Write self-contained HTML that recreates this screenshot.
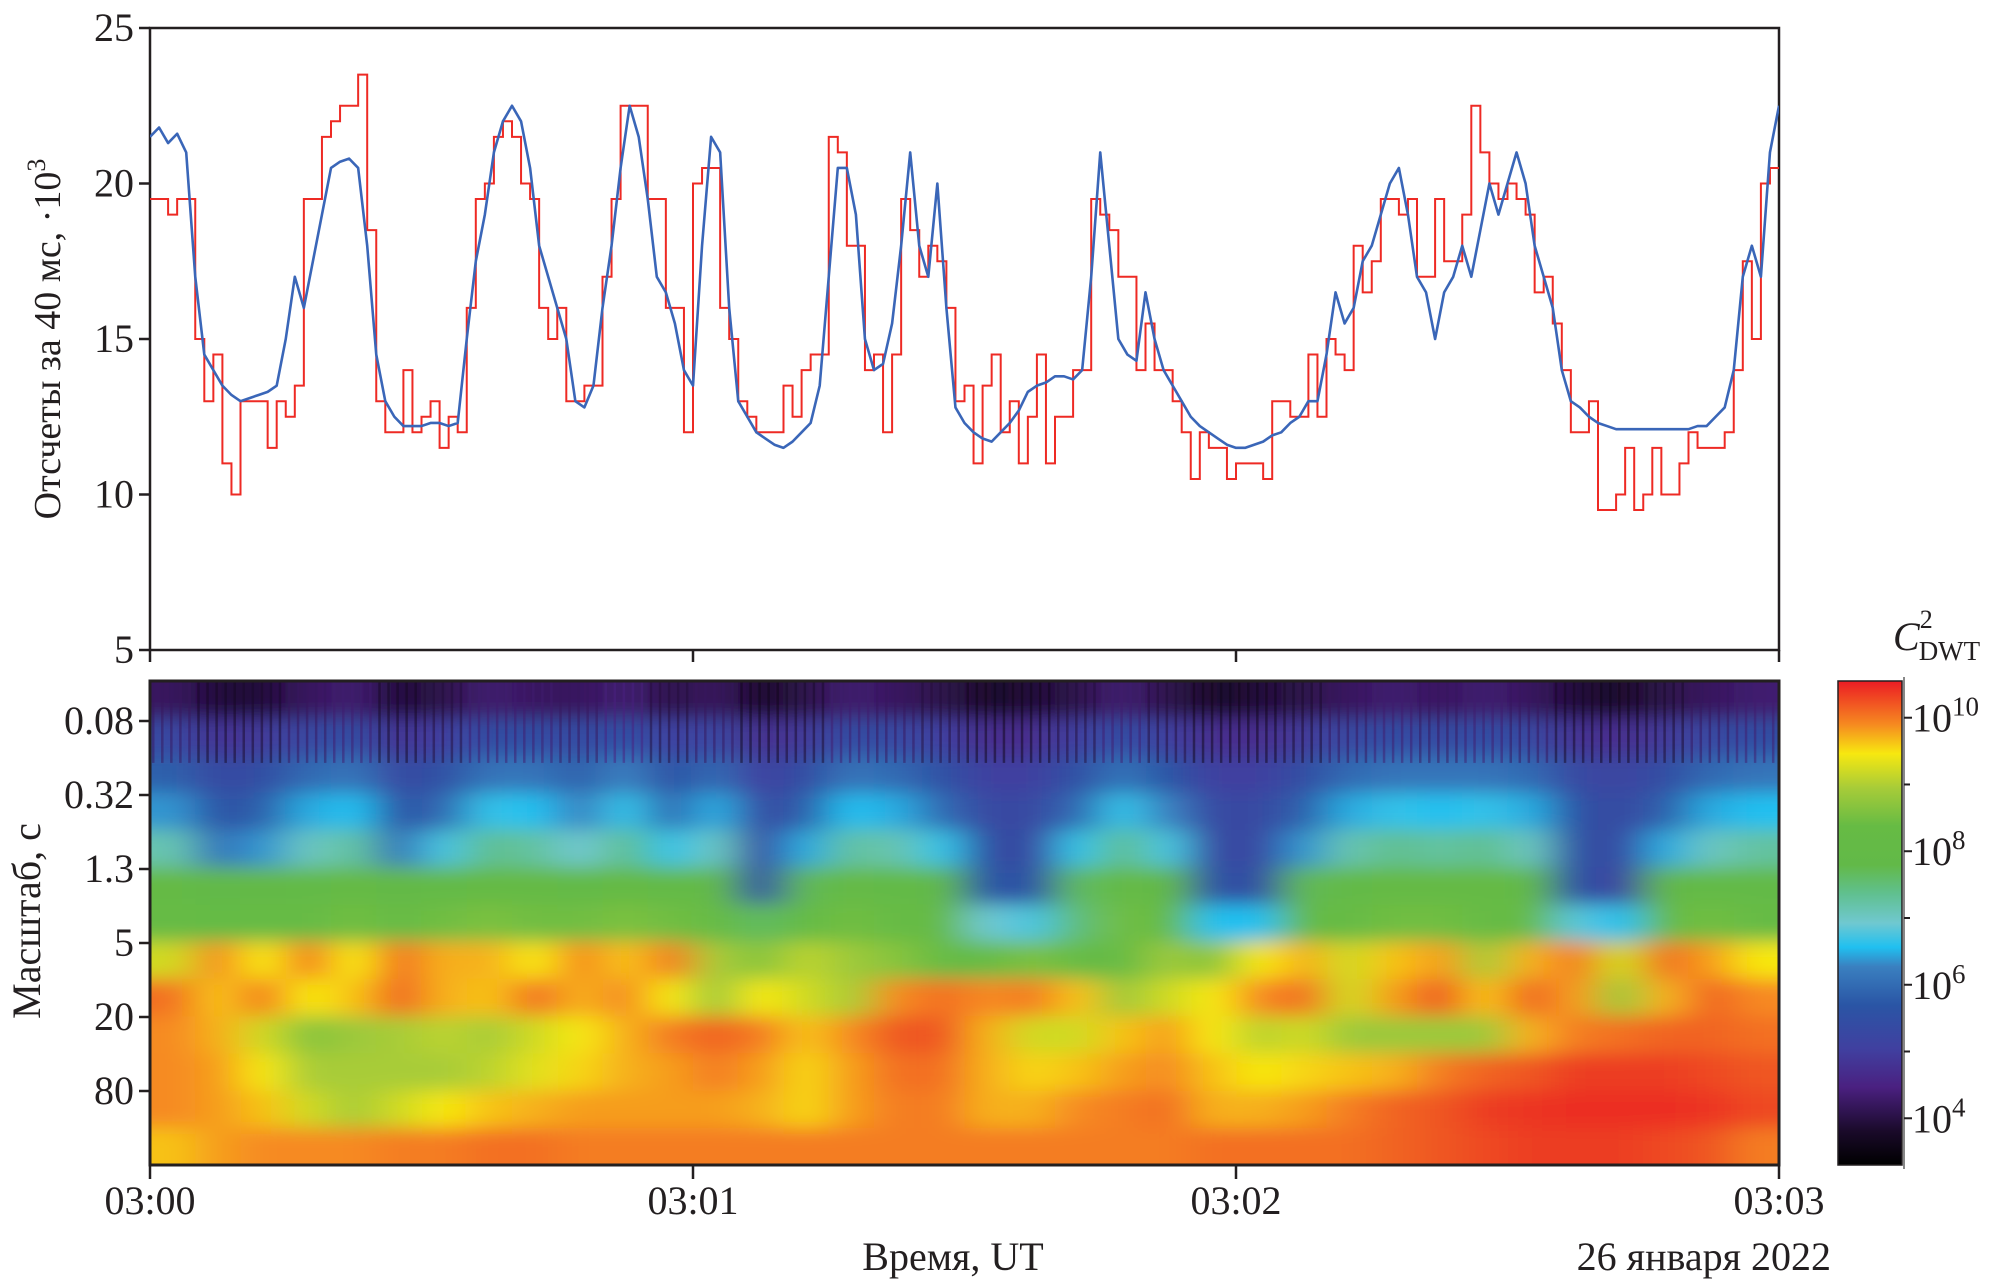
<!DOCTYPE html>
<html><head><meta charset="utf-8">
<style>
html,body{margin:0;padding:0;background:#fff;}
svg{display:block;}
text{font-family:"Liberation Serif",serif;fill:#231f20;}
</style></head>
<body>
<svg id="chart" width="1992" height="1287" viewBox="0 0 1992 1287" xmlns="http://www.w3.org/2000/svg">
<defs>
<filter id="blur" filterUnits="userSpaceOnUse" x="80" y="620" width="1780" height="610"><feGaussianBlur stdDeviation="20 9"/></filter>
<clipPath id="hmclip"><rect x="150" y="681" width="1629" height="484"/></clipPath>
<clipPath id="topclip"><rect x="150" y="28" width="1629" height="622"/></clipPath>
<linearGradient id="cbgrad" x1="0" y1="1" x2="0" y2="0">
<stop offset="0" stop-color="#000000"/>
<stop offset="0.07" stop-color="#1a0a2a"/>
<stop offset="0.16" stop-color="#4a2080"/>
<stop offset="0.24" stop-color="#4040a0"/>
<stop offset="0.33" stop-color="#2a55a5"/>
<stop offset="0.41" stop-color="#3a80c0"/>
<stop offset="0.45" stop-color="#20c0f0"/>
<stop offset="0.50" stop-color="#70c8d0"/>
<stop offset="0.56" stop-color="#60c090"/>
<stop offset="0.62" stop-color="#62b948"/>
<stop offset="0.70" stop-color="#66bb44"/>
<stop offset="0.78" stop-color="#a8cc38"/>
<stop offset="0.85" stop-color="#f7e810"/>
<stop offset="0.91" stop-color="#f68a20"/>
<stop offset="1" stop-color="#ec1c24"/>
</linearGradient>
</defs>
<g id="top-plot"></g>
<g id="bottom-plot"></g>
<g id="colorbar"></g>
<g id="labels"></g>
</svg>
<script>
// ---- data ----
const timeTicks = ["03:00","03:01","03:02","03:03"];
const tickSeconds = [0,60,120,180];
const countTicks = [5,10,15,20,25];
const scaleTicks = ["0.08","0.32","1.3","5","20","80"];
const cbExps = ["10","8","6","4"];
const cbValues = [10,8,6,4];
// blue series: counts per 40 ms (·10^3), one value per second
const blueVals = [21.5,21.8,21.3,21.6,21,17,14.5,14,13.5,13.2,13,13.1,13.2,13.3,13.5,15,17,16,17.5,19,20.5,20.7,20.8,20.5,18,14.5,13,12.5,12.2,12.2,12.2,12.3,12.3,12.2,12.3,15,17.5,19,21,22,22.5,22,20.5,18,17,16,15,13,12.8,13.5,16,18,20.5,22.5,21.5,19.5,17,16.5,15.5,14,13.5,18,21.5,21,16,13,12.5,12,11.8,11.6,11.5,11.7,12,12.3,13.5,17,20.5,20.5,19,15,14,14.2,15.5,18,21,18,17,20,16,12.8,12.3,12,11.8,11.7,12,12.3,12.7,13.3,13.5,13.6,13.8,13.8,13.7,14,17,21,18,15,14.5,14.3,16.5,15,14,13.5,13,12.5,12.2,12,11.8,11.6,11.5,11.5,11.6,11.7,11.9,12,12.3,12.5,13,13,14.5,16.5,15.5,16,17.5,18,19,20,20.5,19,17,16.5,15,16.5,17,18,17,18.5,20,19,20,21,20,18,17,16,14,13,12.8,12.5,12.3,12.2,12.1,12.1,12.1,12.1,12.1,12.1,12.1,12.1,12.1,12.2,12.2,12.5,12.8,14,17,18,17,21,22.5];
// red series: step values, one per second
const redVals = [19.5,19.5,19,19.5,19.5,15,13,14.5,11,10,13,13,13,11.5,13,12.5,13.5,19.5,19.5,21.5,22,22.5,22.5,23.5,18.5,13,12,12,14,12,12.5,13,11.5,12.5,12,16,19.5,20,21.5,22,21.5,20,19.5,16,15,16,13,13,13.5,13.5,17,19.5,22.5,22.5,22.5,19.5,19.5,16,16,12,20,20.5,20.5,16,15,13,12.5,12,12,12,13.5,12.5,14,14.5,14.5,21.5,21,18,18,14,14.5,12,14.5,19.5,18.5,17,18,17.5,16,13,13.5,11,13.5,14.5,12,13,11,12.5,14.5,11,12.5,12.5,14,14,19.5,19,18.5,17,17,14,15.5,14,14,13,12,10.5,12,11.5,11.5,10.5,11,11,11,10.5,13,13,12.5,12.5,14.5,12.5,15,14.5,14,18,16.5,17.5,19.5,19.5,19,19.5,17,17,19.5,17.5,17.5,19,22.5,21,20,19.5,20,19.5,19,16.5,17,15.5,14,12,12,13,9.5,9.5,10,11.5,9.5,10,11.5,10,10,11,12,11.5,11.5,11.5,12,14,17.5,15,20,20.5];
// scalogram: log10(C^2) per scale row (top = small scale) and per 5-s column
const row0 = [4.1,3.9,3.9,4.1,4.2,3.9,4.0,4.2,4.1,4.1,4.2,4.0,4.1,3.8,4.0,4.2,4.1,4.0,3.8,3.9,4.0,4.2,4.0,3.8,3.9,4.0,4.1,4.2,4.1,4.2,4.1,3.9,3.8,4.0,4.1,4.2];
const row1 = [5.0,4.6,4.7,5.0,5.1,4.6,4.8,5.1,5.1,5.0,5.2,4.8,5.0,4.5,4.7,5.1,5.0,4.8,4.5,4.5,4.8,5.1,4.8,4.5,4.5,4.7,5.0,5.1,5.0,5.1,5.0,4.6,4.5,4.7,5.0,5.1];
const row2 = [5.4,5.0,5.1,5.5,5.6,5.0,5.2,5.6,5.6,5.4,5.7,5.2,5.5,4.8,5.1,5.6,5.5,5.2,4.8,4.8,5.2,5.6,5.3,4.8,4.8,5.1,5.5,5.6,5.6,5.6,5.5,5.0,4.9,5.1,5.5,5.6];
const row3 = [5.8,5.2,5.4,5.9,6.0,5.2,5.5,6.1,6.0,5.7,6.1,5.5,5.9,5.0,5.4,6.0,5.9,5.5,5.0,5.0,5.5,6.1,5.7,5.0,5.0,5.4,5.9,6.1,6.0,6.1,5.9,5.2,5.0,5.4,5.9,6.0];
const row4 = [6.6,5.6,5.8,6.5,6.7,5.6,6.2,6.8,6.7,6.4,6.8,6.1,6.5,5.0,5.9,6.7,6.6,6.1,5.1,5.0,6.1,6.8,6.2,5.0,5.0,5.8,6.6,6.8,6.7,6.8,6.5,5.2,5.0,5.9,6.5,6.7];
const row5 = [7.8,7.4,7.5,7.7,7.8,7.5,7.7,7.8,7.8,7.7,7.8,7.6,7.7,5.1,7.3,7.8,7.7,7.4,5.3,5.2,7.2,7.8,7.5,5.2,5.1,7.3,7.7,7.8,7.8,7.8,7.6,5.2,4.9,7.5,7.7,7.7];
const row6 = [8.0,7.9,8.0,8.0,8.1,8.0,8.1,8.2,8.1,8.1,8.2,8.1,8.0,7.2,7.9,8.1,8.0,7.8,6.4,6.2,7.0,8.1,7.9,6.0,6.0,7.8,8.0,8.1,8.1,8.0,8.0,6.3,6.0,8.0,8.1,8.0];
const row7 = [8.8,9.5,9.0,9.6,9.0,9.7,9.3,9.3,9.0,9.5,9.2,9.6,8.6,8.3,8.7,8.5,8.3,8.0,8.0,8.2,8.0,8.0,8.5,8.3,9.0,9.3,8.8,9.2,9.4,8.6,9.3,9.6,8.8,9.7,9.4,9.0];
const row8 = [9.7,9.2,9.6,9.0,9.2,9.8,9.3,9.2,9.7,9.3,9.5,9.0,8.5,9.0,8.8,8.6,9.5,9.7,9.5,9.6,9.2,8.5,8.8,9.0,9.5,9.7,8.8,9.4,9.9,9.2,9.8,9.4,8.5,9.3,9.8,9.5];
const row9 = [9.5,9.3,8.8,8.3,8.5,8.6,8.7,8.6,8.8,9.0,9.3,9.6,9.8,9.6,9.2,9.5,9.9,9.9,9.3,8.8,8.8,9.2,9.4,9.0,8.7,8.8,8.5,8.5,8.5,8.5,9.3,9.6,9.7,9.8,9.8,9.7];
const row10 = [9.5,9.4,9.0,8.6,8.6,8.6,8.6,8.7,8.9,9.1,9.3,9.4,9.6,9.4,9.1,9.4,9.7,9.7,9.3,9.1,9.2,9.4,9.5,9.2,9.0,9.1,9.2,9.3,9.6,9.8,9.9,10.1,10.1,10.1,10.0,9.9];
const row11 = [9.5,9.4,9.2,8.8,8.6,8.8,9.0,9.2,9.3,9.4,9.4,9.4,9.4,9.3,9.1,9.4,9.6,9.6,9.3,9.3,9.5,9.6,9.7,9.3,9.3,9.4,9.6,9.8,9.9,10.1,10.2,10.3,10.3,10.3,10.2,10.0];
const row12 = [9.2,9.4,9.5,9.5,9.5,9.6,9.6,9.7,9.7,9.6,9.6,9.6,9.6,9.6,9.6,9.6,9.6,9.6,9.6,9.6,9.6,9.6,9.6,9.7,9.7,9.7,9.7,9.8,9.9,10.0,10.1,10.1,10.1,10.0,9.9,9.6];

// ---- geometry ----
const NS = "http://www.w3.org/2000/svg";
const X0 = 150, X1 = 1779, TY0 = 28, TY1 = 650, BY0 = 681, BY1 = 1165;
const xOf = t => X0 + (t/180)*(X1-X0);
const yCount = v => TY1 - (v-5)/20*(TY1-TY0);
const CB0 = 681, CB1 = 1165, CBmin = 3.3, CBmax = 10.55;
const yCb = v => CB1 - (v-CBmin)/(CBmax-CBmin)*(CB1-CB0);
function mk(tag, attrs, parent){const e=document.createElementNS(NS,tag);for(const k in attrs)e.setAttribute(k,attrs[k]);parent.appendChild(e);return e;}

const topG = document.getElementById('top-plot');
const botG = document.getElementById('bottom-plot');
const cbG = document.getElementById('colorbar');

// colour map
const stops=[[3.3,[0,0,0]],[3.8,[26,10,42]],[4.3,[74,32,128]],[4.8,[64,64,160]],[5.3,[42,85,165]],[5.7,[58,128,192]],[6.0,[32,192,240]],[6.4,[112,200,208]],[6.8,[96,192,144]],[7.4,[98,185,72]],[8.0,[102,187,68]],[8.6,[168,204,56]],[9.0,[247,232,16]],[9.5,[246,138,32]],[10.1,[236,60,36]],[10.55,[236,28,36]]];
function cmap(v){if(v<=stops[0][0])return stops[0][1];for(let i=1;i<stops.length;i++){if(v<=stops[i][0]){const a=stops[i-1],b=stops[i];const f=(v-a[0])/(b[0]-a[0]);return a[1].map((c,j)=>Math.round(c+(b[1][j]-c)*f));}}return stops[stops.length-1][1];}

// ---- heatmap ----
const rows=[row0,row1,row2,row3,row4,row5,row6,row7,row8,row9,row10,row11,row12];
const hmg = mk('g',{'clip-path':'url(#hmclip)'},botG);


const inner = mk('g',{filter:'url(#blur)'},hmg);
const nR=rows.length, nC=row0.length, rh=(BY1-BY0)/nR, cw=(X1-X0)/nC;
rows.forEach((r,ri)=>{r.forEach((v,ci)=>{
  let x=X0+ci*cw, w=cw+1, y=BY0+ri*rh, h=rh+1;
  if(ci===0){x-=50;w+=50;} if(ci===nC-1){w+=50;}
  if(ri===0){y-=50;h+=50;} if(ri===nR-1){h+=50;}
  const c=cmap(v);
  const e=mk('rect',{x:x,y:y,width:w,height:h,fill:`rgb(${c[0]},${c[1]},${c[2]})`},inner);
  
  
});});
// vertical streak texture in the small-scale rows
const streaks = mk('g',{'clip-path':'url(#hmclip)',opacity:'0.5'},botG);
blueVals.forEach((v,i)=>{
  const c=cmap(row1[Math.min(nC-1,Math.floor(i/5))]-0.9);
  const e=mk('rect',{x:xOf(i)+2,y:BY0,width:2.5,height:rh*2.2,fill:`rgb(${c[0]},${c[1]},${c[2]})`},streaks);
  
  
});
mk('rect',{x:X0,y:BY0,width:X1-X0,height:BY1-BY0,fill:'none',stroke:'#231f20','stroke-width':3},botG);

// ---- top plot ----
mk('rect',{x:X0,y:TY0,width:X1-X0,height:TY1-TY0,fill:'none',stroke:'#231f20','stroke-width':2.5},topG);
const lines = mk('g',{'clip-path':'url(#topclip)'},topG);
let rp='';
redVals.forEach((v,i)=>{const x0=xOf(i),x1=xOf(i+1),y=yCount(v);rp+=(i===0?`M${x0},${y}`:`L${x0},${y}`)+`L${x1},${y}`;});
const red=mk('path',{d:rp,fill:'none',stroke:'#ee2a24','stroke-width':2},lines);


let bp='';
blueVals.forEach((v,i)=>{bp+=(i===0?'M':'L')+xOf(i*180/(blueVals.length-1))+','+yCount(v);});
const blue=mk('path',{d:bp,fill:'none',stroke:'#3a66b8','stroke-width':2.6,'stroke-linejoin':'round'},lines);


countTicks.forEach(v=>{
  const y=yCount(v);
  mk('line',{x1:X0-11,x2:X0,y1:y,y2:y,stroke:'#231f20','stroke-width':2.5},topG);
  const t=mk('text',{x:X0-16,y:y+13,'text-anchor':'end','font-size':40},topG);t.textContent=v;
  
  
});
tickSeconds.forEach(s=>{mk('line',{x1:xOf(s),x2:xOf(s),y1:TY1,y2:TY1+12,stroke:'#231f20','stroke-width':2.5},topG);});

// ---- bottom axes ----
scaleTicks.forEach((s,i)=>{
  const y=721+i*74;
  mk('line',{x1:X0-11,x2:X0,y1:y,y2:y,stroke:'#231f20','stroke-width':2.5},botG);
  const t=mk('text',{x:X0-16,y:y+13,'text-anchor':'end','font-size':40},botG);t.textContent=s;
  
  
});
timeTicks.forEach((s,i)=>{
  const x=xOf(tickSeconds[i]);
  mk('line',{x1:x,x2:x,y1:BY1,y2:BY1+14,stroke:'#231f20','stroke-width':2.5},botG);
  const t=mk('text',{x:x,y:1214,'text-anchor':'middle','font-size':40},botG);t.textContent=s;
  
  
});

// ---- colorbar ----
mk('rect',{x:1838,y:CB0,width:64,height:CB1-CB0,fill:'url(#cbgrad)',stroke:'#231f20','stroke-width':1.5},cbG);
mk('line',{x1:1904,x2:1904,y1:CB0-4,y2:CB1+4,stroke:'#888','stroke-width':2},cbG);
cbValues.forEach((v,i)=>{
  const y=yCb(v);
  mk('line',{x1:1904,x2:1912,y1:y,y2:y,stroke:'#231f20','stroke-width':2},cbG);
  const t=mk('text',{x:1912,y:y+14,'font-size':40},cbG);
  
  
  t.textContent='10';
  const sp=mk('tspan',{dy:-16,'font-size':27},t);sp.textContent=cbExps[i];
});
[9,7,5].forEach(v=>{const y=yCb(v);mk('line',{x1:1904,x2:1910,y1:y,y2:y,stroke:'#231f20','stroke-width':2},cbG);});
</script>
<script>
const labG=document.getElementById('labels');
function addText(attrs,txt,name){const t=document.createElementNS("http://www.w3.org/2000/svg",'text');for(const k in attrs)t.setAttribute(k,attrs[k]);t.innerHTML=txt;


labG.appendChild(t);}
addText({x:0,y:0,transform:'translate(60,339) rotate(-90)','text-anchor':'middle','font-size':38},'Отсчеты за 40 мс, ·10<tspan dy="-15" font-size="26">3</tspan>','y-axis-title-counts');
addText({x:0,y:0,transform:'translate(40,921) rotate(-90)','text-anchor':'middle','font-size':40},'Масштаб, с','y-axis-title-scale');
addText({x:953,y:1270,'text-anchor':'middle','font-size':40},'Время, UT','x-axis-title');
addText({x:1831,y:1270,'text-anchor':'end','font-size':40},'26 января 2022','date-label');
addText({x:1893,y:650,'font-size':40,'font-style':'italic'},'C<tspan dy="-22" font-size="26" font-style="normal">2</tspan><tspan dx="-14" dy="32" font-size="27" font-style="normal">DWT</tspan>','colorbar-title');
</script>
</body></html>
